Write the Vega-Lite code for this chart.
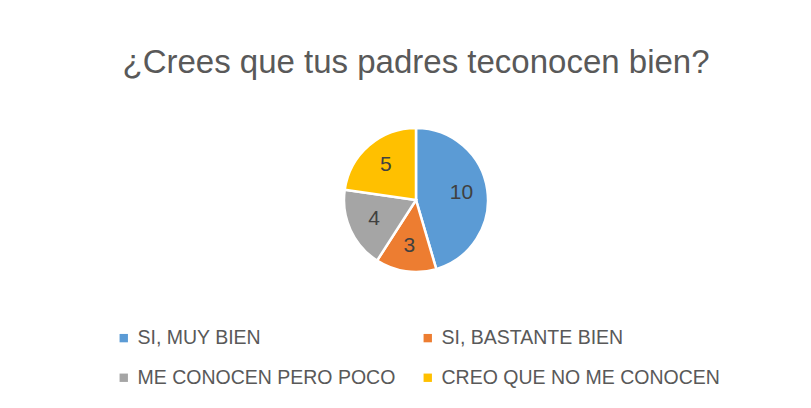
{
  "$schema": "https://vega.github.io/schema/vega-lite/v6.json",
  "width": 832,
  "height": 220,
  "autosize": "none",
  "padding": {"left": 0, "top": 90, "right": 0, "bottom": 100},
  "background": "white",
  "title": {
    "text": "¿Crees que tus padres teconocen bien?",
    "fontSize": 33,
    "font": "Liberation Sans",
    "fontWeight": "normal",
    "color": "#595959",
    "anchor": "middle",
    "offset": 10
  },
  "data": {
    "values": [
      {"respuesta": "SI, MUY BIEN", "n": 10, "orden": 1},
      {"respuesta": "SI, BASTANTE BIEN", "n": 3, "orden": 2},
      {"respuesta": "ME CONOCEN PERO POCO", "n": 4, "orden": 3},
      {"respuesta": "CREO QUE NO ME CONOCEN", "n": 5, "orden": 4}
    ]
  },
  "encoding": {
    "theta": {"field": "n", "type": "quantitative", "stack": true},
    "order": {"field": "orden", "type": "quantitative"}
  },
  "layer": [
    {
      "mark": {"type": "arc", "outerRadius": 72, "stroke": "white", "strokeWidth": 2.5},
      "encoding": {
        "color": {
          "field": "respuesta",
          "type": "nominal",
          "scale": {
            "domain": ["SI, MUY BIEN", "SI, BASTANTE BIEN", "ME CONOCEN PERO POCO", "CREO QUE NO ME CONOCEN"],
            "range": ["#5B9BD5", "#ED7D31", "#A5A5A5", "#FFC000"]
          },
          "legend": {
            "orient": "none",
            "direction": "horizontal",
            "legendX": 114,
            "legendY": 238,
            "columns": 2,
            "title": null,
            "symbolType": "square",
            "symbolSize": 70,
            "symbolStrokeWidth": 0,
            "labelFontSize": 19.5,
            "labelFont": "Liberation Sans",
            "labelColor": "#595959",
            "labelLimit": 400,
            "labelOffset": 4,
            "columnPadding": 22,
            "rowPadding": 19
          }
        }
      }
    },
    {
      "mark": {"type": "text", "radius": 46, "fontSize": 21, "font": "Liberation Sans", "color": "#404040"},
      "encoding": {
        "text": {"field": "n", "type": "quantitative"}
      }
    }
  ],
  "config": {"view": {"stroke": null}}
}
